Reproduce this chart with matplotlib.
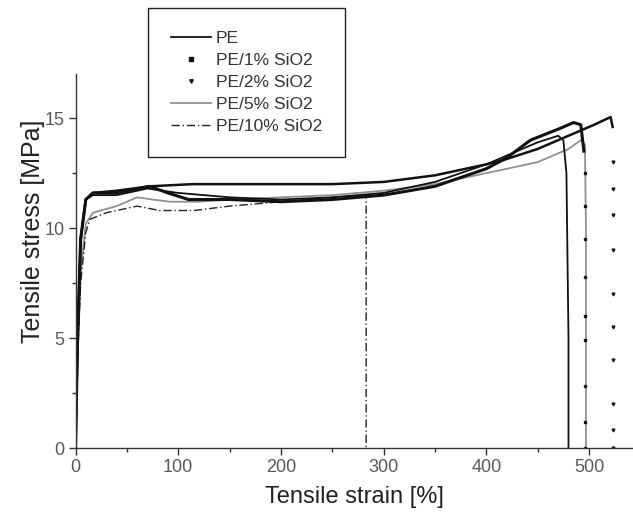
import numpy as np
import matplotlib.pyplot as plt
from matplotlib.lines import Line2D

# Datos (deformacion [%], esfuerzo [MPa])
pe_x = [0, 2, 5, 10, 17, 40, 70, 100, 150, 200, 250, 300, 350, 400, 430, 450, 470, 475, 478, 480, 480]
pe_y = [0, 5, 9.5, 11.3, 11.5, 11.5, 11.8, 11.6, 11.4, 11.3, 11.4, 11.6, 12.1, 12.9, 13.5, 13.9, 14.2, 14.0, 12.5, 5.0, 0]

pe1_x = [0, 2, 5, 10, 17, 40, 72, 90, 110, 150, 200, 250, 300, 350, 400, 420, 443, 470, 485, 492, 495]
pe1_y = [0, 5, 9.5, 11.3, 11.6, 11.6, 11.9, 11.6, 11.3, 11.3, 11.2, 11.3, 11.5, 11.9, 12.7, 13.2, 14.0, 14.5, 14.8, 14.7, 13.5]
pe1_drop_x = [496, 496, 496, 496, 496, 496, 496, 496, 496]
pe1_drop_y = [12.5, 11.0, 9.5, 7.8, 6.0, 4.9, 2.8, 1.2, 0]

pe2_x = [0, 2, 5, 10, 17, 40, 72, 114, 150, 200, 250, 300, 350, 400, 417, 450, 480, 505, 521, 523]
pe2_y = [0, 5, 9.5, 11.3, 11.6, 11.7, 11.9, 12.0, 12.0, 12.0, 12.0, 12.1, 12.4, 12.9, 13.1, 13.6, 14.2, 14.7, 15.05, 14.6]
pe2_drop_x = [523, 523, 523, 523, 523, 523, 523, 523, 523, 523]
pe2_drop_y = [13.0, 11.8, 10.6, 9.0, 7.0, 5.5, 4.0, 2.0, 0.8, 0]

pe5_x = [0, 2, 5, 10, 17, 40, 60, 75, 92, 120, 150, 200, 250, 300, 350, 400, 450, 480, 492, 496, 497, 497]
pe5_y = [0, 4, 8, 10.2, 10.7, 11.0, 11.4, 11.3, 11.2, 11.2, 11.3, 11.4, 11.5, 11.7, 12.0, 12.5, 13.0, 13.6, 14.0, 13.8, 10, 0]

pe10_x = [0, 2, 5, 10, 14, 30, 60, 82, 115, 150, 200, 250, 283, 283]
pe10_y = [0, 4, 7.5, 9.8, 10.4, 10.7, 11.0, 10.8, 10.8, 11.0, 11.2, 11.4, 11.5, 0]

etiquetas = ['PE', 'PE/1% SiO2', 'PE/2% SiO2', 'PE/5% SiO2', 'PE/10% SiO2']

plt.rcParams['font.family'] = ['Liberation Sans', 'DejaVu Sans']

fig = plt.figure(figsize=(6.33, 5.15), dpi=100)
ax = fig.add_axes([0.1193, 0.130, 0.881, 0.726])

ax.plot(pe5_x, pe5_y, color='#909090', lw=1.3)
ax.plot(pe10_x, pe10_y, color='#222222', lw=1.0, ls=(0, (6, 2, 1, 2)))
ax.plot(pe_x, pe_y, color='#111111', lw=1.3)
ax.plot(pe1_x, pe1_y, color='#111111', lw=2.2)
ax.plot(pe1_drop_x, pe1_drop_y, ls='none', marker='s', ms=1.8, color='#111111')
ax.plot(pe2_x, pe2_y, color='#111111', lw=1.8)
ax.plot(pe2_drop_x, pe2_drop_y, ls='none', marker='v', ms=2.0, color='#111111')

ax.set_xlim(0, 543)
ax.set_ylim(0, 17)
ax.set_xticks([0, 100, 200, 300, 400, 500])
ax.set_xticks(np.arange(50, 543, 100), minor=True)
ax.set_yticks([0, 5, 10, 15])
ax.set_yticks([2.5, 7.5, 12.5], minor=True)

for lado in ['top', 'right']:
    ax.spines[lado].set_visible(False)
for lado in ['left', 'bottom']:
    ax.spines[lado].set_color('#333333')
    ax.spines[lado].set_linewidth(1.0)

ax.tick_params(which='major', direction='out', length=5, width=1.0, color='#333333',
               labelsize=13, labelcolor='#5a5a5a', pad=3)
ax.tick_params(which='minor', direction='out', length=3, width=1.0, color='#333333')

ax.set_xlabel('Tensile strain [%]', fontsize=17, color='#222222', labelpad=7)
ax.set_ylabel('Tensile stress [MPa]', fontsize=18, color='#222222')
ax.yaxis.set_label_coords(-0.055, 0.58)

handles = [
    Line2D([], [], color='#111111', lw=1.3),
    Line2D([], [], ls='none', marker='s', ms=2.5, color='#111111'),
    Line2D([], [], ls='none', marker='v', ms=2.5, color='#111111'),
    Line2D([], [], color='#909090', lw=1.3),
    Line2D([], [], color='#222222', lw=1.0, ls=(0, (6, 2, 1, 2))),
]
leg = fig.legend(handles, etiquetas, loc='upper left', bbox_to_anchor=(0.234, 0.984),
                 fontsize=12.5, frameon=True, fancybox=False, edgecolor='#222222',
                 framealpha=1, borderaxespad=0, borderpad=1.3, handlelength=2.3,
                 handletextpad=0.3, labelspacing=0.4, labelcolor='#333333')
leg.get_frame().set_linewidth(1.0)

fig.savefig('out.png', dpi=100)
